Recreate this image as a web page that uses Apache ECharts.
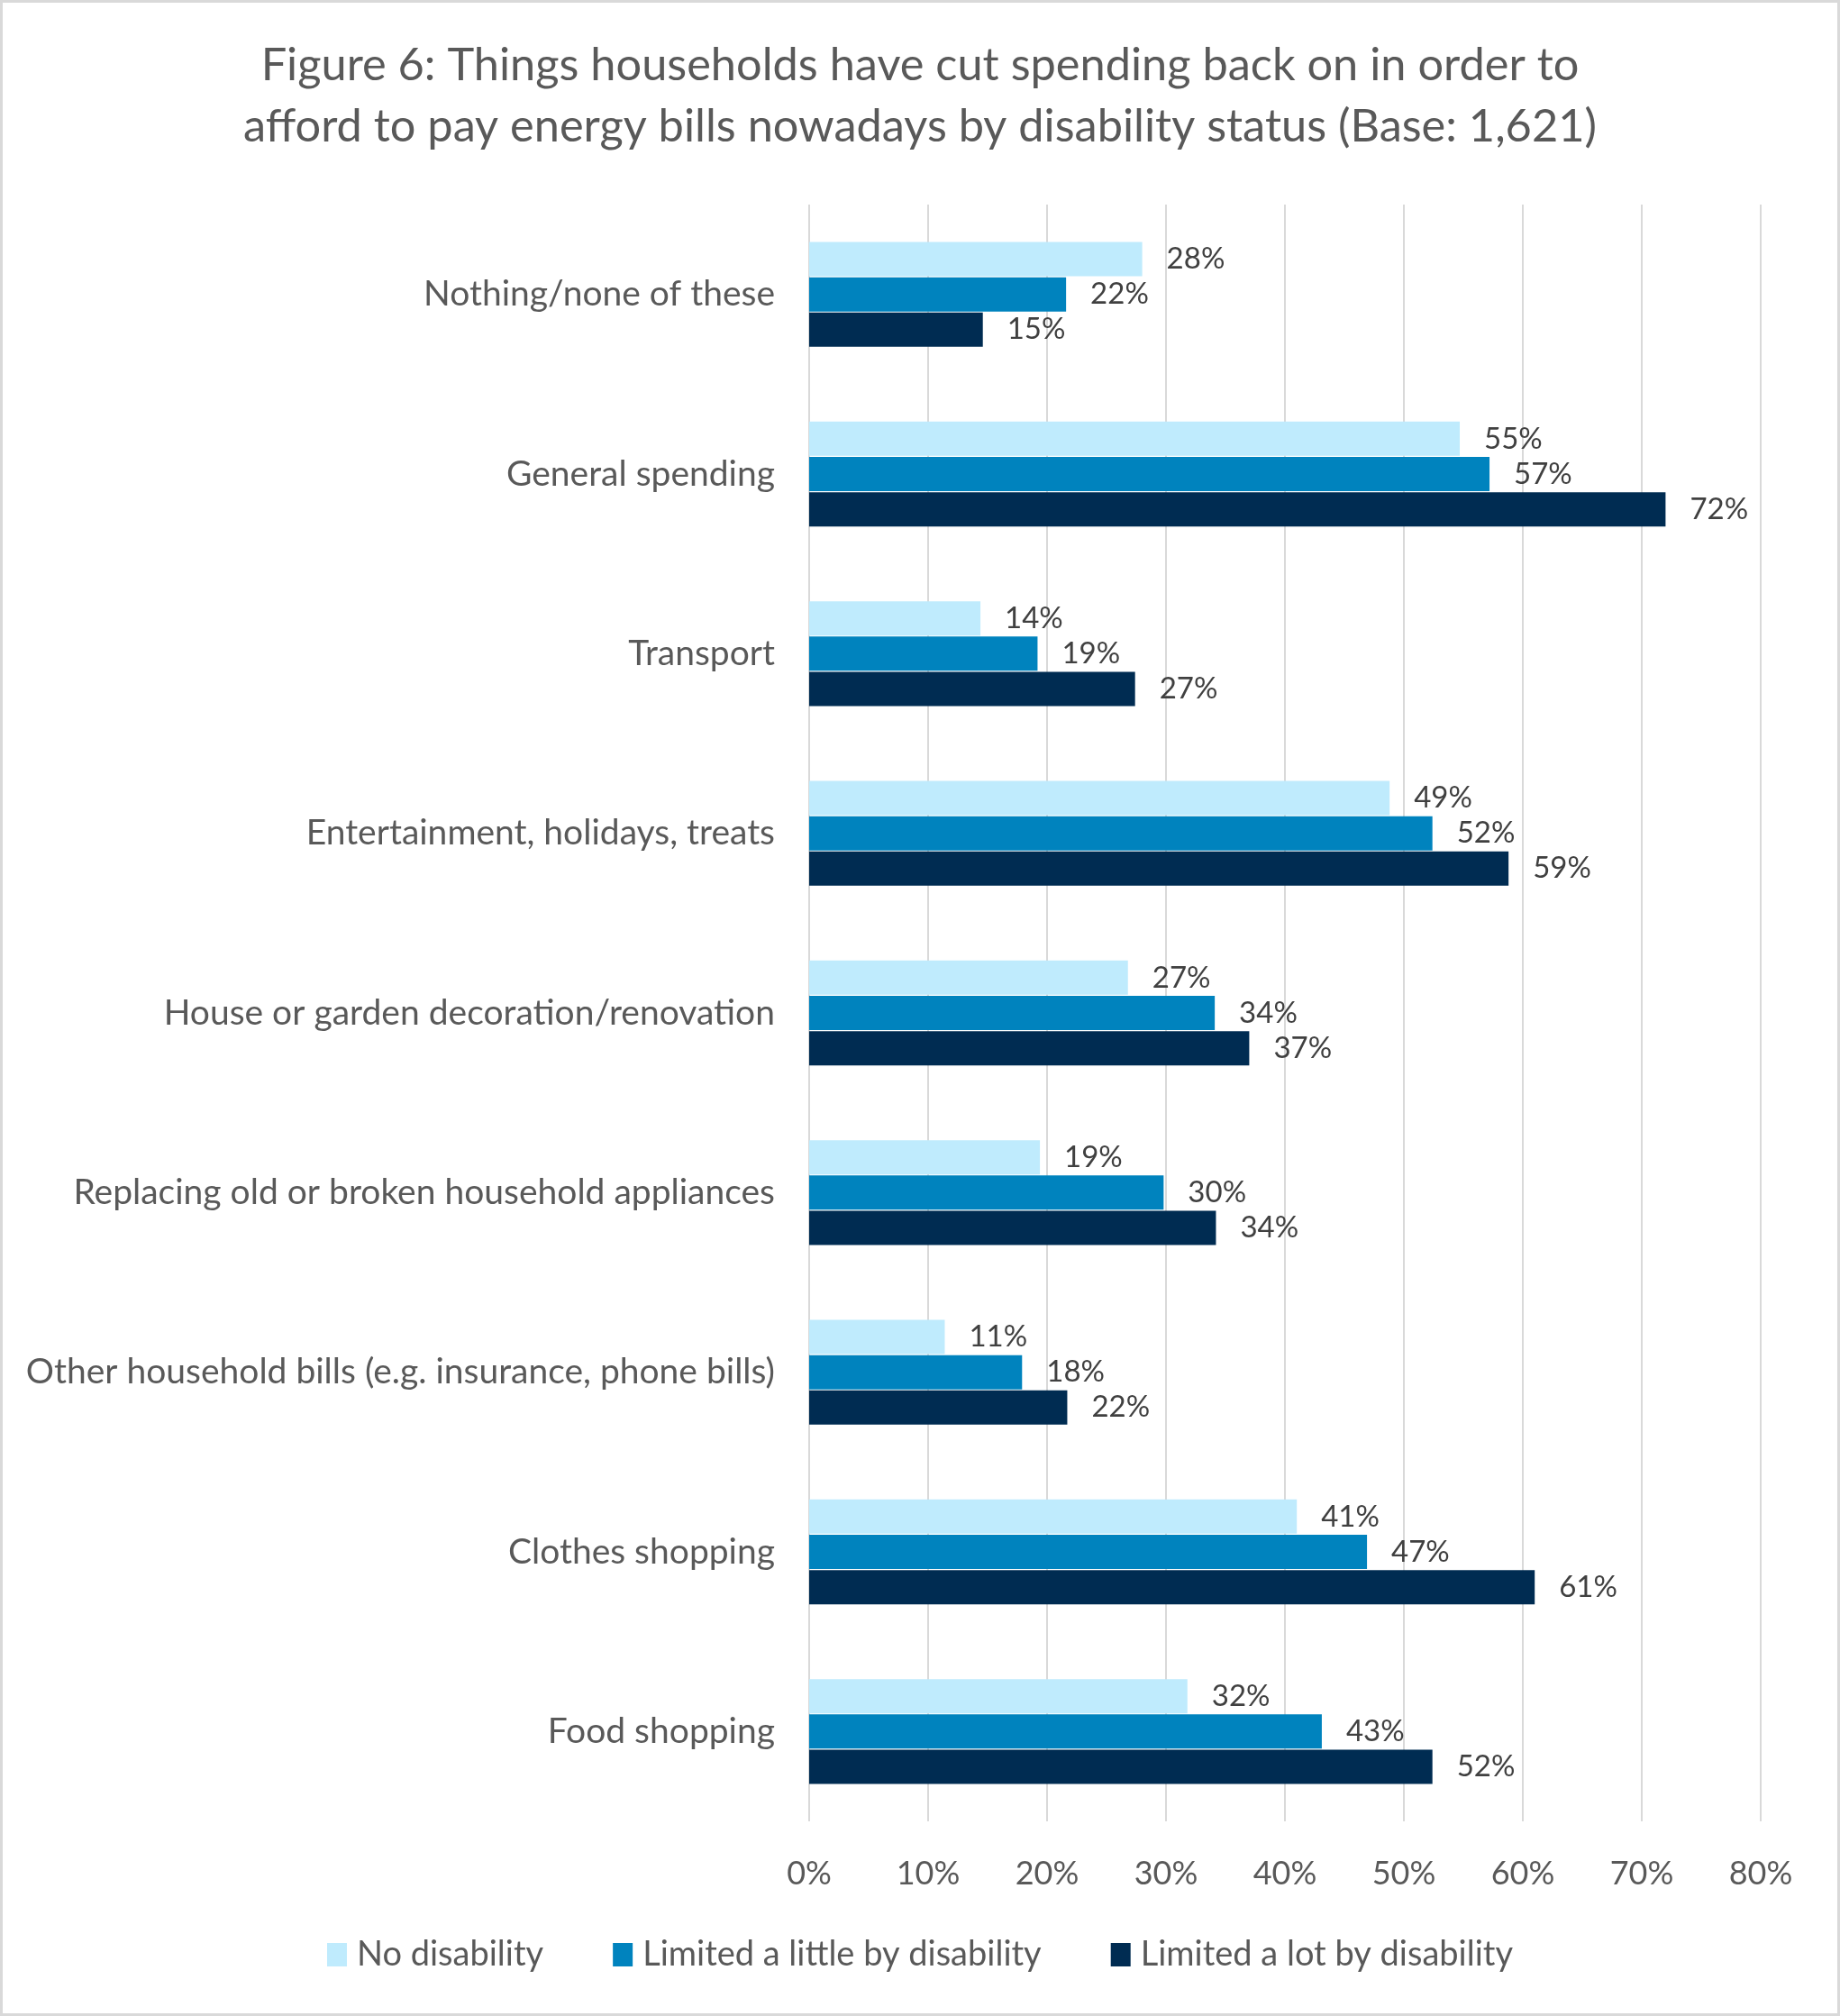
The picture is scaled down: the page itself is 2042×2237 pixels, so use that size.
<!DOCTYPE html>
<html>
<head>
<meta charset="utf-8">
<script src="https://cdn.jsdelivr.net/npm/echarts@6/dist/echarts.min.js"></script>
<style>
  html, body { margin: 0; padding: 0; background: #fff; }
  #chart { width: 2042px; height: 2237px; }
</style>
</head>
<body>
<div id="chart"></div>
<script>
var categories = [
  'Nothing/none of these',
  'General spending',
  'Transport',
  'Entertainment, holidays, treats',
  'House or garden decoration/renovation',
  'Replacing old or broken household appliances',
  'Other household bills (e.g. insurance, phone bills)',
  'Clothes shopping',
  'Food shopping'
];
var seriesNames = ['No disability', 'Limited a little by disability', 'Limited a lot by disability'];
var noDisability = [28.0, 54.7, 14.4, 48.8, 26.8, 19.4, 11.4, 41.0, 31.8];
var limitedLittle = [21.6, 57.2, 19.2, 52.4, 34.1, 29.8, 17.9, 46.9, 43.1];
var limitedLot = [14.6, 72.0, 27.4, 58.8, 37.0, 34.2, 21.7, 61.0, 52.4];
var colors = ['#BFEBFD', '#0083BE', '#002C52'];

var chart = echarts.init(document.getElementById('chart'));

var font = 'Lato, "Open Sans", sans-serif';
var textColor = '#595959';

function makeSeries(name, data, color) {
  return {
    name: name,
    type: 'bar',
    data: data,
    barWidth: 38,
    barGap: '3%',
    itemStyle: { color: color },
    label: {
      show: true,
      position: 'right',
      distance: 27,
      color: '#404040',
      fontFamily: font,
      fontSize: 33,
      formatter: function (p) { return Math.round(p.value) + '%'; }
    },
    emphasis: { disabled: true }
  };
}

var option = {
  animation: false,
  backgroundColor: '#fff',
  color: colors,
  graphic: [{
    type: 'rect',
    shape: { x: 1.5, y: 1.5, width: 2039, height: 2234 },
    style: { fill: 'none', stroke: '#D9D9D9', lineWidth: 3 },
    silent: true
  }],
  title: {
    text: 'Figure 6: Things households have cut spending back on in order to\nafford to pay energy bills nowadays by disability status (Base: 1,621)',
    left: 'center',
    top: 34,
    textStyle: {
      color: textColor,
      fontFamily: font,
      fontSize: 50.5,
      fontWeight: 'normal',
      lineHeight: 68
    }
  },
  legend: {
    bottom: 44,
    left: 'center',
    itemWidth: 22,
    itemHeight: 26,
    itemGap: 77,
    icon: 'rect',
    textStyle: {
      color: textColor,
      fontFamily: font,
      fontSize: 38,
      padding: [0, 0, 0, 6]
    },
    data: seriesNames
  },
  grid: {
    left: 898,
    right: 88,
    top: 227,
    bottom: 216,
    containLabel: false
  },
  xAxis: {
    type: 'value',
    min: 0,
    max: 80,
    interval: 10,
    axisLine: { show: false },
    axisTick: { show: false },
    splitLine: { show: true, lineStyle: { color: '#D9D9D9', width: 2 } },
    axisLabel: {
      color: textColor,
      fontFamily: font,
      fontSize: 36,
      margin: 40,
      formatter: '{value}%'
    }
  },
  yAxis: {
    type: 'category',
    data: categories,
    inverse: true,
    axisLine: { show: false },
    axisTick: { show: false },
    axisLabel: {
      color: textColor,
      fontFamily: font,
      fontSize: 39,
      margin: 38
    }
  },
  series: [
    makeSeries(seriesNames[0], noDisability, colors[0]),
    makeSeries(seriesNames[1], limitedLittle, colors[1]),
    makeSeries(seriesNames[2], limitedLot, colors[2])
  ]
};

chart.setOption(option);
</script>
</body>
</html>
